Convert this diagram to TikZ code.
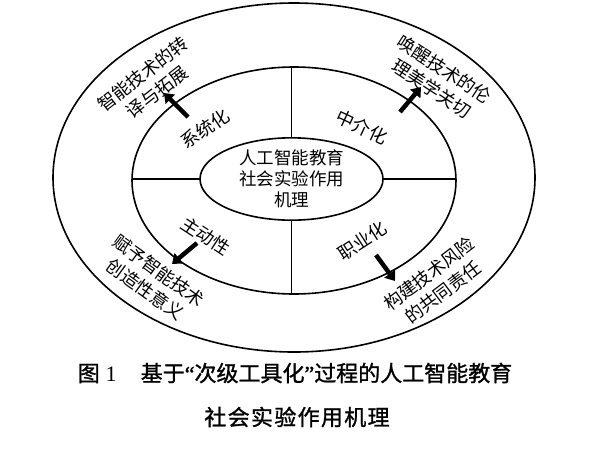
\documentclass[tikz,border=0pt]{standalone}
\usepackage{fontspec}
\setmainfont{Noto Sans CJK SC}
\newfontfamily\numfont{Liberation Serif}
\newfontfamily\capfont[FakeBold=1.2]{Noto Sans CJK SC}
\newfontfamily\capquote[FakeBold=1.2]{Liberation Serif}
\usetikzlibrary{arrows.meta,shapes.geometric}
\tikzset{
 ring/.style={draw=black, line width=1.6pt, ellipse, inner sep=0pt, outer sep=0pt},
 divider/.style={draw=black, line width=1.3pt},
 ringlabel/.style={font=\fontsize{18}{22}\selectfont, inner sep=0pt},
 outlabel/.style={font=\fontsize{18}{23}\selectfont, align=center, inner sep=0pt},
 pusharrow/.style={line width=4.5pt, -{Triangle[length=9pt,width=13pt]}},
 captext/.style={font=\capfont\fontsize{22}{26}\selectfont, inner sep=0pt},
}
\begin{document}
\begin{tikzpicture}[x=1pt,y=-1pt]
\useasboundingbox (0,0) rectangle (600,448);
\fill[white] (0,0) rectangle (600,448);
% rings
\node[ring, minimum width=482pt, minimum height=349pt] (outer) at (294,177.5) {};
\node[ring, minimum width=324pt, minimum height=227pt] (mid) at (294,180.5) {};
\node[ring, minimum width=183pt, minimum height=82pt, align=center,
      font=\fontsize{17.5}{21}\selectfont] (core) at (291.5,179) {人工智能教育\\社会实验作用\\机理};
% dividers
\draw[divider] (core.north) -- (core.north |- mid.north);
\draw[divider] (core.south) -- (core.south |- mid.south);
\draw[divider] (core.west) -- (mid.west |- core.west);
\draw[divider] (core.east) -- (mid.east |- core.east);
% ring labels
\node[ringlabel, rotate=34] (sys) at (205,129) {系统化};
\node[ringlabel, rotate=-25] (med) at (362,127) {中介化};
\node[ringlabel, rotate=-33] (act) at (206,236) {主动性};
\node[ringlabel, rotate=33] (pro) at (362,241) {职业化};
% outer labels
\node[outlabel, rotate=38] (o1) at (150,83) {智能技术的转\\译与拓展};
\node[outlabel, rotate=-33] (o2) at (438,79) {唤醒技术的伦\\理美学关切};
\node[outlabel, rotate=-36] (o3) at (152,280) {赋予智能技术\\创造性意义};
\node[outlabel, rotate=37] (o4) at (436,283) {构建技术风险\\的共同责任};
% arrows
\coordinate (a1s) at (188,117); \coordinate (a1e) at (164,93);
\coordinate (a2s) at (400,112); \coordinate (a2e) at (421,87);
\coordinate (a3s) at (197,243); \coordinate (a3e) at (172,264);
\coordinate (a4s) at (376,255); \coordinate (a4e) at (395,281);
\draw[pusharrow] (a1s) -- (a1e);
\draw[pusharrow] (a2s) -- (a2e);
\draw[pusharrow] (a3s) -- (a3e);
\draw[pusharrow] (a4s) -- (a4e);
% caption
\node[captext] (cap1) at (295,373) {图\hspace{6pt}{\numfont 1}\hspace{24pt}基于{\capquote “}次级工具化{\capquote ”}过程的人工智能教育};
\node[captext, font=\capfont\fontsize{22}{26}\selectfont\addfontfeature{LetterSpace=6}] (cap2) at (297,417) {社会实验作用机理};
\end{tikzpicture}
\end{document}
